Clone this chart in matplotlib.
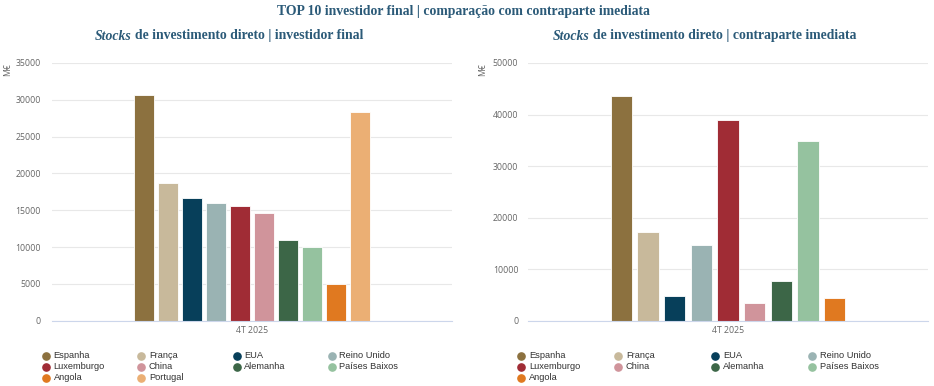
import numpy as np
import matplotlib
matplotlib.use("Agg")
import matplotlib.pyplot as plt
from matplotlib.lines import Line2D

# ---------------- data ----------------
category = "4T 2025"
left_countries = ["Espanha", "França", "EUA", "Reino Unido", "Luxemburgo",
                  "China", "Alemanha", "Países Baixos", "Angola", "Portugal"]
left_values = [30600, 18700, 16600, 15950, 15600, 14600, 11000, 10050, 5050, 28300]

right_countries = ["Espanha", "França", "EUA", "Reino Unido", "Luxemburgo",
                   "China", "Alemanha", "Países Baixos", "Angola"]
right_values = [43600, 17250, 4800, 14700, 38950, 3450, 7650, 34850, 4350]

country_colors = {
    "Espanha": "#8C713F",
    "França": "#C8B99B",
    "EUA": "#073F5A",
    "Reino Unido": "#9AB3B3",
    "Luxemburgo": "#A02C35",
    "China": "#D0949B",
    "Alemanha": "#3C6647",
    "Países Baixos": "#95C29F",
    "Angola": "#E07920",
    "Portugal": "#EBAF74",
}

left_ticks = [0, 5000, 10000, 15000, 20000, 25000, 30000, 35000]
right_ticks = [0, 10000, 20000, 30000, 40000, 50000]

main_title = "TOP 10 investidor final | comparação com contraparte imediata"
left_sub = [("Stocks", "italic"), ("de investimento direto | investidor final", "normal")]
right_sub = [("Stocks", "italic"), ("de investimento direto | contraparte imediata", "normal")]
y_unit = "M€"

# ---------------- figure ----------------
W, H = 934, 386
fig = plt.figure(figsize=(W / 100, H / 100), dpi=100)
fig.patch.set_facecolor("white")

title_color = "#2B5A78"
grid_color = "#E8E8E8"
tick_color = "#666666"


def make_axes(rect, countries, values, ticks, tickpad):
    ax = fig.add_axes(rect)
    n = len(values)
    pitch = 0.6 / n
    offsets = (np.arange(n) - (n - 1) / 2) * pitch
    ax.bar(offsets, values, width=0.8 * pitch,
           color=[country_colors[c] for c in countries],
           edgecolor="white", linewidth=0.6, zorder=3)
    ax.set_xlim(-0.5, 0.5)
    ax.set_ylim(0, ticks[-1])
    ax.set_yticks(ticks)
    ax.set_yticklabels([str(t) for t in ticks], fontsize=6.3,
                       family="Open Sans", color=tick_color)
    ax.set_xticks([0])
    ax.set_xticklabels([category], fontsize=6.3, family="Open Sans", color=tick_color)
    ax.tick_params(axis="y", length=0, pad=tickpad)
    ax.tick_params(axis="x", length=0, pad=4)
    ax.yaxis.grid(True, color=grid_color, linewidth=0.8, zorder=0)
    ax.set_axisbelow(True)
    for s in ["left", "right", "top"]:
        ax.spines[s].set_visible(False)
    ax.spines["bottom"].set_color("#CCD6EB")
    ax.spines["bottom"].set_linewidth(0.8)
    ax.spines["bottom"].set_zorder(4)
    ax.set_facecolor("none")
    return ax


axL = make_axes([52 / W, 1 - 320.7 / H, 400 / W, 257.7 / H],
                left_countries, left_values, left_ticks, 8)
axR = make_axes([528 / W, 1 - 320.7 / H, 400 / W, 257.7 / H],
                right_countries, right_values, right_ticks, 7)

# y unit labels
fig.text(8 / W, 1 - 70 / H, y_unit, rotation=90, fontsize=6.2, family="Open Sans",
         color=tick_color, ha="center", va="center")
fig.text(483 / W, 1 - 70 / H, y_unit, rotation=90, fontsize=6.2, family="Open Sans",
         color=tick_color, ha="center", va="center")

# titles
fig.text(463 / W, 1 - 11 / H, main_title, ha="center", va="center",
         family="Liberation Serif", fontweight="bold", fontsize=9.9, color=title_color)

renderer = fig.canvas.get_renderer()


def text_width(s, style):
    t = fig.text(0, 0, s, family="Liberation Serif", fontweight="bold",
                 fontstyle=style, fontsize=9.9)
    w = t.get_window_extent(renderer).width
    t.remove()
    return w


space_w = text_width("x x", "normal") - text_width("xx", "normal")


def mixed_title(xc_px, yc_px, parts):
    texts = []
    widths = []
    for s, style in parts:
        t = fig.text(0, 1 - yc_px / H, s, ha="left", va="center",
                     family="Liberation Serif", fontweight="bold",
                     fontstyle=style, fontsize=9.9, color=title_color)
        texts.append(t)
        widths.append(t.get_window_extent(renderer).width)
    total = sum(widths) + space_w * (len(parts) - 1)
    x = xc_px - total / 2
    for t, w in zip(texts, widths):
        t.set_x(x / W)
        x += w + space_w


mixed_title(229.5, 36, left_sub)
mixed_title(704.5, 36, right_sub)


# legends (4 columns, row-major)
def draw_legend(countries, x0, dx, y0, dy):
    for i, c in enumerate(countries):
        r, col = divmod(i, 4)
        x = x0 + col * dx
        y = y0 + r * dy
        fig.add_artist(Line2D([x / W], [1 - y / H], marker="o", markersize=5.2,
                              color=country_colors[c], linestyle="none",
                              transform=fig.transFigure))
        fig.text((x + 7.5) / W, 1 - y / H, c, ha="left", va="center",
                 family="Liberation Sans", fontsize=6.7, color="#333333")


draw_legend(left_countries, 46, 95.3, 355.7, 11)
draw_legend(right_countries, 521.3, 97, 355.7, 11)

fig.savefig("out.png", dpi=100, facecolor="white")
